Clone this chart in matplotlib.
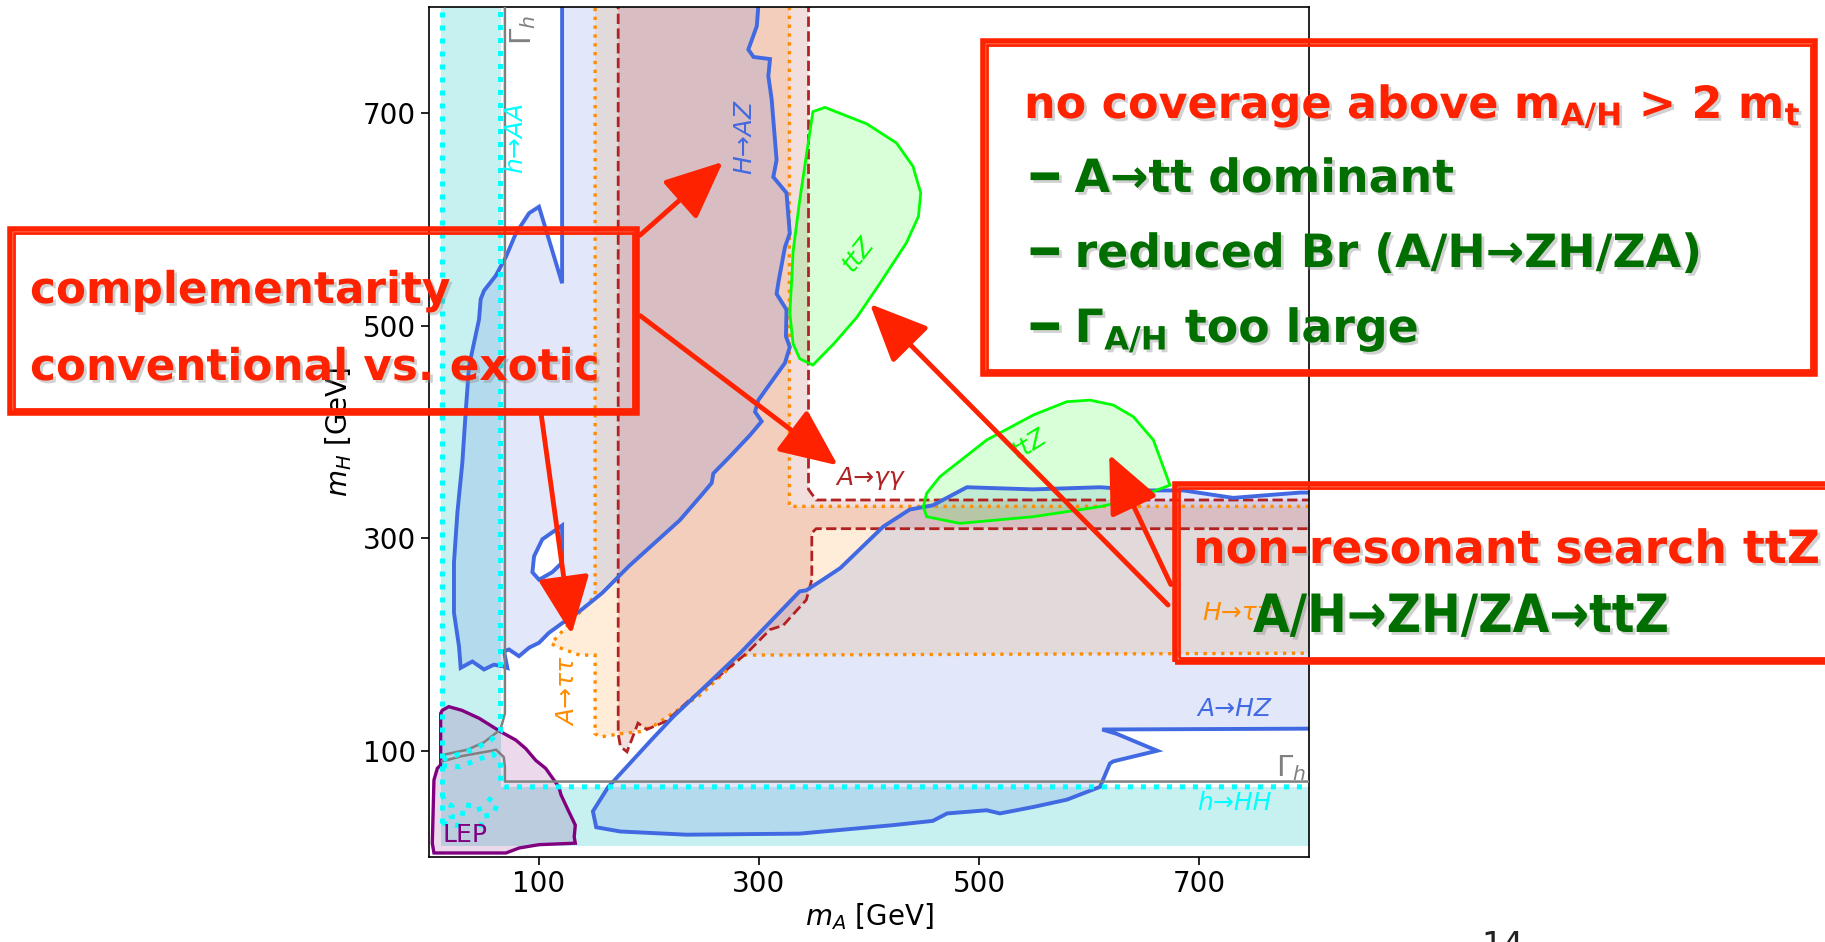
import matplotlib.pyplot as plt
import matplotlib.patheffects as pe
from matplotlib.patches import Polygon, Rectangle, FancyArrowPatch

W, H = 1825, 942

# exclusion contours in the (m_A, m_H) plane [GeV]; 850 = beyond plot range
h_to_light = [(10.6, 850), (65, 850), (65, 66), (850, 66), (850, 10.6), (10.6, 10.6)]

lep = [(12, 138), (18, 141.5), (30, 138), (45.5, 130.6), (65, 118), (79, 110),
       (88, 102), (97, 91), (106, 83.5), (118, 66), (120, 58.5), (127, 43),
       (133, 30), (132, 19), (133, 13), (100, 11.6), (82, 8.5), (70, 3.8),
       (4.5, 3.8), (3, 13), (4.5, 72.5), (7.6, 83.5), (10.6, 86.6), (10.6, 135)]

a_tautau = [(151, 850), (151, 246), (111, 201), (116, 198), (137, 190), (151, 190),
            (151, 116), (156, 113), (174, 116), (192, 118), (205, 124), (246, 152),
            (286, 190), (850, 192), (850, 330), (327.6, 330), (327.6, 850)]

a_gamgam = [(172, 850), (172, 116), (174, 104), (180, 99), (190, 126), (198, 120),
            (216, 128), (237, 148), (264.5, 171), (289, 192), (310, 214), (322, 218),
            (343, 242), (348, 261), (348, 305), (352, 309), (850, 309), (850, 336),
            (352, 336), (345, 346), (345, 850)]

h_az = [(121, 850), (121, 540), (100, 612), (91, 606), (79, 587), (70, 565),
        (60.6, 547), (50, 533), (47, 525), (45.5, 506), (36.4, 462), (33.3, 418),
        (30.3, 371), (25.8, 324), (22.7, 277), (22.7, 230), (27.3, 198), (28.8, 178),
        (39.4, 184), (50, 176.5), (59, 181), (66.7, 179.6), (71.2, 178), (68.2, 193.7),
        (72.7, 195.3), (81.8, 189), (91, 197), (100, 201.6), (109, 211), (121, 220),
        (139, 233), (157.6, 248.6), (182, 274), (228, 317), (246.4, 339), (257, 352),
        (258.5, 361), (273.6, 377), (291.8, 397), (302.4, 410), (296.4, 419),
        (299.4, 430), (323.6, 465), (328, 480), (324.5, 490), (325, 515), (316, 530),
        (318, 543), (323.6, 574), (328, 587), (325, 625), (313, 640), (316, 656),
        (311.5, 713), (308.5, 735), (310, 751), (295, 753), (290.3, 760), (298, 782),
        (303, 850)]
h_az_hole = [(121, 312), (103, 299), (95.5, 283), (94, 268), (100, 261), (112, 268), (121, 277)]

a_hz = [(149, 43), (152, 28), (174, 24), (234, 21), (337, 22), (422, 30), (458, 34),
        (471, 41), (507, 44), (519, 41), (549, 47), (580, 54), (610, 66), (619, 88),
        (622, 90), (662, 100), (625, 116), (612, 120), (850, 121), (850, 343),
        (792, 343), (731, 338), (686, 345), (655, 345), (610, 348), (549, 346),
        (489, 348), (458, 331), (437, 327), (413, 311), (374, 272), (358, 261),
        (343, 251), (337, 250), (283, 192), (222, 132), (202, 110), (163, 66)]

ttz_upper = [(349, 701.5), (343, 660), (337, 618), (331, 570), (329.7, 543), (328, 512),
             (331, 483), (337, 469), (349, 463), (368, 483), (389, 508), (410, 540),
             (434, 578), (445, 603), (447, 625), (440, 650), (425, 672), (398, 690),
             (360, 705.5)]
ttz_lower = [(449.4, 329.7), (452.4, 320.3), (482.7, 314), (549.4, 320.3), (610, 329.7),
             (640.3, 336.7), (673.6, 350), (658.5, 392.5), (640.3, 414.4), (622, 425.4),
             (601, 430), (579.7, 428.5), (549.4, 416), (507, 392.5), (464.5, 358),
             (452.4, 342.3)]

# width boundary Gamma_h
gam_v = [(69, 850), (69, 135), (65, 120), (50, 108), (35, 101), (12, 96)]
gam_h = [(12, 90), (30, 95), (57, 100), (61, 101), (68, 94), (69, 85), (69, 71), (850, 71)]

# h -> AA / h -> HH dotted contours
cyan_lines = [
    [(11.5, 850), (11.5, 28)],
    [(65, 850), (65, 118), (56, 110), (42, 102), (28, 97), (13, 92)],
    [(12, 86), (28, 85), (45, 92), (58, 97), (65, 90), (65, 68), (69, 66), (850, 66)],
    [(12, 59), (15, 51), (21, 48), (20, 38), (30, 38), (32, 49), (45, 48), (48, 38),
     (58, 40), (62, 49), (53, 56)],
    [(12, 32), (24, 30), (34, 29)],
    [(45, 31), (50, 29)],
]

xticks = [100, 300, 500, 700]
yticks = [100, 300, 500, 700]

RED = '#ff2200'
GREEN = '#006f00'

fig = plt.figure(figsize=(W / 100, H / 100), dpi=100)
ax = fig.add_axes([429 / W, 85 / H, 880 / W, 850 / H])
ax.set_xlim(0, 800)
ax.set_ylim(0, 800)


def region(pts, color, alpha, ls='-', lw=2.0, z=1):
    ax.add_patch(Polygon(pts, closed=True, fc=color, alpha=alpha, ec='none', zorder=z))
    ax.add_patch(Polygon(pts, closed=True, fill=False, ec=color, ls=ls, lw=lw, zorder=z + 1))


ax.add_patch(Polygon(h_to_light, closed=True, fc='c', alpha=0.22, ec='none', zorder=1))
region(lep, 'purple', 0.15, lw=2.4)
region(a_tautau, 'darkorange', 0.15, ls=':', lw=2.4)
region(a_gamgam, 'firebrick', 0.15, ls='--', lw=2.0)
region(h_az, 'royalblue', 0.15, lw=2.8)
ax.add_patch(Polygon(h_az_hole, closed=True, fc='white', ec='royalblue', lw=2.8, zorder=2))
region(a_hz, 'royalblue', 0.15, lw=2.8)
region(ttz_upper, 'lime', 0.15, lw=2.0)
region(ttz_lower, 'lime', 0.15, lw=2.0)

for line in (gam_v, gam_h):
    xs, ys = zip(*line)
    ax.plot(xs, ys, color='gray', lw=1.8, zorder=3)
for line in cyan_lines:
    xs, ys = zip(*line)
    ax.plot(xs, ys, color='cyan', lw=3.6, ls=(0, (1, 1.6)), zorder=3)

lab = dict(fontsize=18, fontstyle='italic')
ax.text(78.6, 677, 'h→AA', color='cyan', rotation=90, ha='center', va='center', **lab)
ax.text(287, 678, 'H→AZ', color='royalblue', rotation=90, ha='center', va='center', **lab)
ax.text(127, 155, 'A→ττ', color='darkorange', rotation=90, ha='center', va='center', **lab)
ax.text(401, 357, 'A→γγ', color='firebrick', ha='center', va='center', **lab)
ax.text(766, 230, 'H→ττ', color='darkorange', ha='right', va='center', **lab)
ax.text(766, 139, 'A→HZ', color='royalblue', ha='right', va='center', **lab)
ax.text(766, 51, 'h→HH', color='cyan', ha='right', va='center', **lab)
ax.text(390, 567, 'ttZ', color='lime', rotation=52, ha='center', va='center', **lab)
ax.text(546, 388, 'ttZ', color='lime', rotation=32, ha='center', va='center', **lab)
ax.text(86, 778, r'$\Gamma_h$', color='gray', rotation=90, ha='center', va='center', fontsize=21)
ax.text(797, 70, r'$\Gamma_h$', color='gray', ha='right', va='bottom', fontsize=21)
ax.text(12, 9, 'LEP', color='purple', ha='left', va='bottom', fontsize=18)

ax.set_xticks(xticks)
ax.set_yticks(yticks)
ax.tick_params(labelsize=20, length=6, width=1.2)
for s in ax.spines.values():
    s.set_linewidth(1.2)
ax.set_xlabel(r'$m_A$ [GeV]', fontsize=20, labelpad=2)
ax.set_ylabel(r'$m_H$ [GeV]', fontsize=20, labelpad=6)


# slide annotations, positioned in figure pixels
def fpt(x, y):
    return x / W, 1 - y / H


shadow = [pe.SimplePatchShadow(offset=(2, -2), shadow_rgbFace='0.55', alpha=0.4), pe.Normal()]


def box(x0, y0, x1, y1):
    for d, lw in ((0, 4.0), (4, 2.0)):
        r = Rectangle(fpt(x0 + d, y1 - d), (x1 - x0 - 2 * d) / W, (y1 - y0 - 2 * d) / H,
                      transform=fig.transFigure, fill=False, ec=RED, lw=lw, zorder=20,
                      clip_on=False)
        fig.add_artist(r)


def arrow(x0, y0, x1, y1):
    a = FancyArrowPatch(fpt(x0, y0), fpt(x1, y1), transform=fig.transFigure,
                        arrowstyle='-|>,head_length=0.9,head_width=0.4', mutation_scale=40,
                        color=RED, lw=3.5, zorder=21)
    fig.add_artist(a)


def note(x, y, s, color, size, **kw):
    fig.text(*fpt(x, y), s, color=color, fontsize=size, fontweight='bold',
             ha='left', va='baseline', path_effects=shadow, zorder=22, **kw)


box(10, 229, 637, 413)
box(983, 41, 1815, 374)
box(1175, 484, 1860, 662)

arrow(638, 237, 725, 160)
arrow(638, 314, 840, 467)
arrow(541, 413, 572, 637)
arrow(1170, 607, 868, 302)
arrow(1172, 587, 1108, 452)

note(30, 303, 'complementarity', RED, 31.5)
note(30, 380, 'conventional vs. exotic', RED, 31.5)
note(1024, 118, r'no coverage above m$_{\mathbf{A/H}}$ > 2 m$_{\mathbf{t}}$', RED, 32)
note(1031, 192, '━ A→tt dominant', GREEN, 33)
note(1031, 267, '━ reduced Br (A/H→ZH/ZA)', GREEN, 33)
note(1031, 342, r'━ $\mathbf{\Gamma}_{\mathbf{A/H}}$ too large', GREEN, 33)
note(1193, 563, 'non-resonant search ttZ', RED, 33)
note(1253, 632, 'A/H→ZH/ZA→ttZ', GREEN, 38, family='DejaVu Sans', fontstretch='condensed')

fig.text(*fpt(1503, 956), '14', fontsize=24, color='#222222', ha='center', va='baseline')

fig.savefig('out.png', dpi=100)
